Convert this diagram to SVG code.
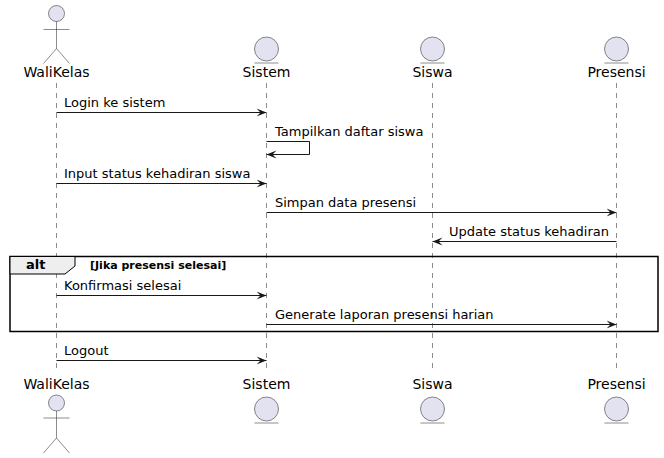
<svg xmlns="http://www.w3.org/2000/svg" width="664" height="458" viewBox="0 0 664 458">
<style>
text{font-family:"DejaVu Sans",sans-serif;fill:#000}
.pl{font-size:14px}
.msg{font-size:13px}
.life{stroke:#181818;stroke-width:0.5;stroke-dasharray:5,5;fill:none}
.shape{fill:#E2E2F0;stroke:#181818;stroke-width:0.5}
.stick{fill:none;stroke:#181818;stroke-width:0.5}
.ln{stroke:#181818;stroke-width:1;fill:none}
.head{fill:#181818;stroke:#181818;stroke-width:1}
</style>
<defs>
<marker id="ah" markerWidth="12" markerHeight="10" refX="10" refY="5" orient="auto" markerUnits="userSpaceOnUse">
<polygon points="0,1 10,5 0,9 4,5" fill="#181818"/>
</marker>
</defs>
<g id="lifelines">
<line class="life" x1="56.5" y1="83" x2="56.5" y2="372"/>
<line class="life" x1="266.5" y1="83" x2="266.5" y2="372"/>
<line class="life" x1="432.5" y1="83" x2="432.5" y2="372"/>
<line class="life" x1="616.5" y1="83" x2="616.5" y2="372"/>
</g>
<g id="WaliKelas">
<circle class="shape" cx="56.5" cy="13.5" r="8"/>
<path class="stick" d="M56.5,21.5 V48.5 M43.5,29.5 H69.5 M43.5,63.5 L56.5,48.5 L69.5,63.5"/>
<text class="pl" x="56.5" y="77" text-anchor="middle">WaliKelas</text>
<text class="pl" x="56.5" y="389" text-anchor="middle">WaliKelas</text>
<circle class="shape" cx="56.5" cy="403" r="8"/>
<path class="stick" d="M56.5,411 V438 M43.5,418 H69.5 M43.5,453 L56.5,438 L69.5,453"/>
</g>
<g id="Sistem">
<circle class="shape" cx="266.5" cy="49" r="12"/>
<line class="stick" x1="254.5" y1="63" x2="278.5" y2="63"/>
<text class="pl" x="266.5" y="77" text-anchor="middle">Sistem</text>
<text class="pl" x="266.5" y="389" text-anchor="middle">Sistem</text>
<circle class="shape" cx="266.5" cy="409" r="12"/>
<line class="stick" x1="254.5" y1="423" x2="278.5" y2="423"/>
</g>
<g id="Siswa">
<circle class="shape" cx="432.5" cy="49" r="12"/>
<line class="stick" x1="420.5" y1="63" x2="444.5" y2="63"/>
<text class="pl" x="432.5" y="77" text-anchor="middle">Siswa</text>
<text class="pl" x="432.5" y="389" text-anchor="middle">Siswa</text>
<circle class="shape" cx="432.5" cy="409" r="12"/>
<line class="stick" x1="420.5" y1="423" x2="444.5" y2="423"/>
</g>
<g id="Presensi">
<circle class="shape" cx="616.5" cy="49" r="12"/>
<line class="stick" x1="604.5" y1="63" x2="628.5" y2="63"/>
<text class="pl" x="616.5" y="77" text-anchor="middle">Presensi</text>
<text class="pl" x="616.5" y="389" text-anchor="middle">Presensi</text>
<circle class="shape" cx="616.5" cy="409" r="12"/>
<line class="stick" x1="604.5" y1="423" x2="628.5" y2="423"/>
</g>
<g id="alt-frame">
<rect x="10" y="256.5" width="648" height="75" fill="none" stroke="#000" stroke-width="1.5"/>
<polygon points="10,256.5 75,256.5 75,266 65,274 10,274" fill="#EEEEEE" stroke="#000" stroke-width="1"/>
<text x="26" y="269" style="font-size:13px;font-weight:bold">alt</text>
<text x="90" y="269" style="font-size:11px;font-weight:bold">[Jika presensi selesai]</text>
</g>
<g id="connectors">
<line class="ln" x1="56.5" y1="112.5" x2="266.5" y2="112.5" marker-end="url(#ah)"/>
<polyline class="ln" points="266.5,141.5 309.5,141.5 309.5,154.5 266.5,154.5" marker-end="url(#ah)"/>
<line class="ln" x1="56.5" y1="183.5" x2="266.5" y2="183.5" marker-end="url(#ah)"/>
<line class="ln" x1="266.5" y1="212.5" x2="616.5" y2="212.5" marker-end="url(#ah)"/>
<line class="ln" x1="616.5" y1="241.5" x2="432.5" y2="241.5" marker-end="url(#ah)"/>
<line class="ln" x1="56.5" y1="295.5" x2="266.5" y2="295.5" marker-end="url(#ah)"/>
<line class="ln" x1="266.5" y1="324.5" x2="616.5" y2="324.5" marker-end="url(#ah)"/>
<line class="ln" x1="56.5" y1="360.5" x2="266.5" y2="360.5" marker-end="url(#ah)"/>
</g>
<g id="labels">
<text class="msg" x="64" y="107">Login ke sistem</text>
<text class="msg" x="275" y="136">Tampilkan daftar siswa</text>
<text class="msg" x="64" y="178">Input status kehadiran siswa</text>
<text class="msg" x="275" y="207">Simpan data presensi</text>
<text class="msg" x="449" y="236">Update status kehadiran</text>
<text class="msg" x="64" y="290">Konfirmasi selesai</text>
<text class="msg" x="275" y="319">Generate laporan presensi harian</text>
<text class="msg" x="64" y="355">Logout</text>
</g>
</svg>
